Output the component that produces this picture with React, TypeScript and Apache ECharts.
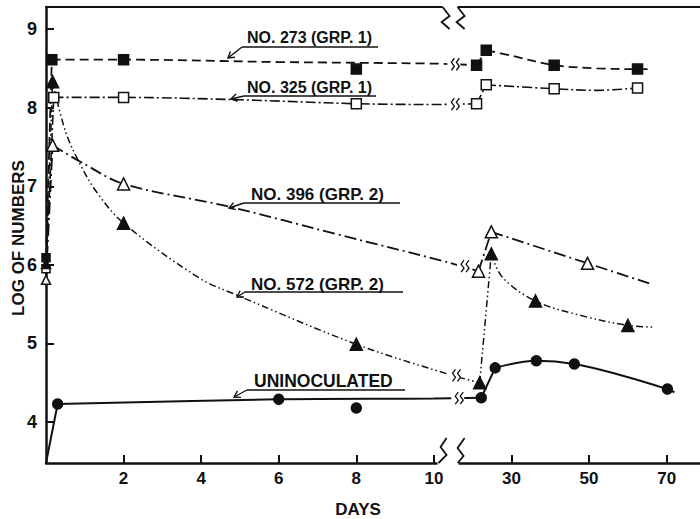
import React, { useEffect, useRef } from "react";
import * as echarts from "echarts";

// ---- axis ticks ----
const xTickDays = [2, 4, 6, 8, 10, 30, 50, 70];
const xTickLabels = ["2", "4", "6", "8", "10", "30", "50", "70"];
const yTickValues = [4, 5, 6, 7, 8, 9];
const Y_MIN = 3.48;
const Y_MAX = 9.28;
const X_MAX_AXIS = 16.86;

// ---- data (day, log of numbers) ----
const no273Points = [[0, 6.09], [0.15, 8.61], [2, 8.61], [8, 8.49], [21, 8.54], [23.5, 8.73], [41, 8.54], [62.5, 8.49]];
const no273Curve = [
  [[0, 6.09], [0.15, 8.61]],
  [[0.15, 8.61], [2, 8.61], [6, 8.58], [10, 8.56], [21, 8.54]],
  [[21, 8.54], [23.5, 8.73]],
  [[23.5, 8.73], [30, 8.66], [41, 8.54], [52, 8.5], [62.5, 8.49], [65.5, 8.49]],
];

const no325Points = [[0, 5.95], [0.2, 8.13], [2, 8.13], [8, 8.05], [21, 8.05], [23.5, 8.29], [41, 8.24], [62.5, 8.25]];
const no325Curve = [
  [[0, 5.95], [0.2, 8.13]],
  [[0.2, 8.13], [2, 8.13], [5, 8.1], [8, 8.05], [10, 8.04], [21, 8.05]],
  [[21, 8.05], [23.5, 8.29]],
  [[23.5, 8.29], [41, 8.24], [52, 8.22], [62.5, 8.25]],
];

const no396Points = [[0, 5.81], [0.17, 7.52], [2, 7.03], [21.5, 5.92], [24.8, 6.42], [49.6, 6.02]];
const no396Curve = [
  [[0, 5.81], [0.17, 7.52]],
  [[0.17, 7.52], [1, 7.28], [2, 7.03], [4.73, 6.74], [7.5, 6.39], [13, 6.04], [21.5, 5.92]],
  [[21.5, 5.92], [24.8, 6.42]],
  [[24.8, 6.42], [49.6, 6.02], [65.8, 5.76]],
];

const no572Points = [[0, 6.01], [0.17, 8.33], [2, 6.53], [8, 4.99], [21.8, 4.5], [24.8, 6.14], [36.2, 5.54], [60, 5.23]];
const no572Curve = [
  [[0, 6.01], [0.17, 8.33]],
  [[0.17, 8.33], [0.5, 7.7], [0.86, 7.3], [1.3, 6.93], [2, 6.53], [3.96, 5.83], [4.9, 5.62], [8, 4.99], [13, 4.62], [21.8, 4.5]],
  [[21.8, 4.5], [24.8, 6.14]],
  [[24.8, 6.14], [27.7, 5.84], [36.2, 5.54], [47.6, 5.36], [60, 5.23], [66.3, 5.21]],
];

const uninocPoints = [[0.3, 4.23], [6, 4.29], [8, 4.18], [22.2, 4.31], [25.8, 4.69], [36.4, 4.78], [46.2, 4.74], [70.2, 4.42]];
const uninocCurve = [
  [[0, 3.48], [0.3, 4.23]],
  [[0.3, 4.23], [6, 4.29], [10, 4.3], [22.2, 4.31]],
  [[22.2, 4.31], [25.8, 4.69]],
  [[25.8, 4.69], [36.4, 4.78], [46.2, 4.74], [58, 4.6], [70.2, 4.42], [72, 4.38]],
];

// broken time axis: 0-10 days linear, 10-20 compressed gap, 20+ at 10 days per unit
function toAxis(day: number): number {
  if (day <= 10) return day;
  if (day < 20) return 10 + (day - 10) / 10;
  return 11 + (day - 20) / 10;
}

const INK = "#111";
const FONT = "Liberation Sans";

const strains = [
  { name: "NO. 273 (GRP. 1)", points: no273Points, curve: no273Curve, symbol: "rect", filled: true, size: 10, dash: [9, 5] as any, width: 1.8, breakDay: 14.5 },
  { name: "NO. 325 (GRP. 1)", points: no325Points, curve: no325Curve, symbol: "rect", filled: false, size: 10, dash: [10, 3, 2, 3] as any, width: 1.6, breakDay: 14.5 },
  { name: "NO. 396 (GRP. 2)", points: no396Points, curve: no396Curve, symbol: "triangle", filled: false, size: 12, dash: [12, 4, 2, 4] as any, width: 1.8, breakDay: 17 },
  { name: "NO. 572 (GRP. 2)", points: no572Points, curve: no572Curve, symbol: "triangle", filled: true, size: 12, dash: [7, 3, 1.5, 3, 1.5, 3] as any, width: 1.5, breakDay: 14.8 },
  { name: "UNINOCULATED", points: uninocPoints, curve: uninocCurve, symbol: "circle", filled: true, size: 10, dash: "solid" as any, width: 2, breakDay: 15.5 },
];

// label annotations (pixel layout)
const labelLayout = [
  { text: "NO. 273 (GRP. 1)", size: 16, x: 247, y: 37, ulY: 47, ulX1: 242, ulX2: 378, tipX: 228, tipY: 58 },
  { text: "NO. 325 (GRP. 1)", size: 16, x: 247, y: 87, ulY: 96, ulX1: 244, ulX2: 376, tipX: 231, tipY: 99 },
  { text: "NO. 396 (GRP. 2)", size: 17, x: 251, y: 194, ulY: 203, ulX1: 244, ulX2: 400, tipX: 229, tipY: 208 },
  { text: "NO. 572 (GRP. 2)", size: 17, x: 251, y: 284, ulY: 292, ulX1: 245, ulX2: 403, tipX: 237, tipY: 297 },
  { text: "UNINOCULATED", size: 17.5, x: 254, y: 381, ulY: 390, ulX1: 247, ulX2: 405, tipX: 234, tipY: 397 },
];

function valueAt(curve: number[][][], c: number): number {
  for (const seg of curve) {
    for (let i = 0; i < seg.length - 1; i++) {
      const a = toAxis(seg[i][0]);
      const b = toAxis(seg[i + 1][0]);
      if (c >= a && c <= b && b > a) {
        const t = (c - a) / (b - a);
        return seg[i][1] + t * (seg[i + 1][1] - seg[i][1]);
      }
    }
  }
  return curve[0][0][1];
}

export default function App() {
  const ref = useRef<HTMLDivElement>(null);
  useEffect(() => {
    document.body.style.margin = "0";
    const chart = echarts.init(ref.current!, undefined, { renderer: "svg" });
    const tickAxis = xTickDays.map(toAxis);

    const series: any[] = [];
    strains.forEach((s) => {
      s.curve.forEach((seg) => {
        series.push({
          type: "line",
          data: seg.map(([d, v]) => [toAxis(d), v]),
          smooth: seg.length > 2 ? 0.35 : false,
          symbol: "none",
          lineStyle: { color: INK, width: s.width, type: s.dash, cap: "butt" },
          z: 2,
          silent: true,
        });
      });
      series.push({
        type: "scatter",
        name: s.name,
        data: s.points.map(([d, v]) => [toAxis(d), v]),
        symbol: s.symbol,
        symbolSize: (val: number[]) => (val[0] === 0 ? Math.round(s.size * 0.75) : s.size),
        itemStyle: { color: s.filled ? INK : "#fff", borderColor: INK, borderWidth: 1.5, opacity: 1 },
        clip: false,
        z: 3,
      });
    });

    const labelFmt = (v: number) => {
      const i = tickAxis.findIndex((t) => Math.abs(t - v) < 1e-6);
      return i >= 0 ? xTickLabels[i] : "";
    };

    chart.setOption({
      animation: false,
      backgroundColor: "#fff",
      grid: { left: 46, right: 0, top: 7, bottom: 56, containLabel: false, outerBoundsMode: "none" },
      xAxis: [
        {
          type: "value",
          min: 0,
          max: X_MAX_AXIS,
          position: "bottom",
          axisLine: { show: true, lineStyle: { color: INK, width: 2.5 } },
          axisTick: { show: true, inside: true, length: 8, customValues: tickAxis, lineStyle: { color: INK, width: 2 } },
          axisLabel: {
            customValues: tickAxis,
            formatter: labelFmt,
            color: INK,
            fontSize: 17,
            fontWeight: "bold",
            fontFamily: FONT,
            margin: 7,
          },
          splitLine: { show: false },
        },
        {
          type: "value",
          min: 0,
          max: X_MAX_AXIS,
          position: "top",
          axisLine: { show: true, lineStyle: { color: INK, width: 2 } },
          axisTick: { show: false },
          axisLabel: { show: false },
          splitLine: { show: false },
        },
      ],
      yAxis: {
        type: "value",
        min: Y_MIN,
        max: Y_MAX,
        axisLine: { show: true, lineStyle: { color: INK, width: 2.5 } },
        axisTick: { show: true, inside: true, length: 8, customValues: yTickValues, lineStyle: { color: INK, width: 2 } },
        axisLabel: {
          customValues: yTickValues,
          color: INK,
          fontSize: 18,
          fontWeight: "bold",
          fontFamily: FONT,
          margin: 9,
        },
        splitLine: { show: false },
      },
      series,
    });

    const px = (c: number, v: number) => chart.convertToPixel({ xAxisIndex: 0, yAxisIndex: 0 }, [c, v]) as number[];
    const graphic: any[] = [];
    const [xa, yb] = px(10.43, Y_MIN);
    const yt = px(0, Y_MAX)[1];
    const stroke = { stroke: INK, lineWidth: 1.8, fill: "none" };

    // bottom axis break
    graphic.push({ type: "rect", shape: { x: xa - 13, y: yb - 3, width: 21, height: 6 }, style: { fill: "#fff" }, z: 100 });
    graphic.push({ type: "polyline", shape: { points: [[xa - 4, yb - 25], [xa - 10, yb - 16], [xa - 4, yb - 8], [xa - 12, yb]] }, style: stroke, z: 101 });
    graphic.push({ type: "polyline", shape: { points: [[xa + 14, yb - 25], [xa + 7, yb - 15], [xa + 13, yb - 7], [xa + 7, yb]] }, style: stroke, z: 101 });
    // top border break
    graphic.push({ type: "rect", shape: { x: xa - 8, y: yt - 3, width: 15, height: 6 }, style: { fill: "#fff" }, z: 100 });
    graphic.push({ type: "polyline", shape: { points: [[xa - 8, yt], [xa - 1, yt + 9], [xa - 9, yt + 15], [xa - 1, yt + 22]] }, style: stroke, z: 101 });
    graphic.push({ type: "polyline", shape: { points: [[xa + 7, yt], [xa + 14, yt + 9], [xa + 6, yt + 15], [xa + 14, yt + 22]] }, style: stroke, z: 101 });

    // curve breaks
    strains.forEach((s) => {
      const c = toAxis(s.breakDay);
      const [x, y] = px(c, valueAt(s.curve, c));
      graphic.push({ type: "rect", shape: { x: x - 4, y: y - 2.5, width: 13, height: 5 }, style: { fill: "#fff" }, z: 100 });
      [0, 5].forEach((o) => {
        graphic.push({
          type: "polyline",
          shape: { points: [[x + o + 3, y - 6], [x + o, y - 2], [x + o + 3, y + 2], [x + o, y + 6]] },
          style: { stroke: INK, lineWidth: 1.3, fill: "none" },
          z: 101,
        });
      });
    });

    // labels with underline and arrow
    labelLayout.forEach((l) => {
      graphic.push({
        type: "text",
        style: { text: l.text, x: l.x, y: l.y, fill: INK, fontSize: l.size, fontWeight: "bold", fontFamily: FONT, align: "left", verticalAlign: "middle" },
        z: 101,
      });
      graphic.push({ type: "line", shape: { x1: l.ulX1, y1: l.ulY, x2: l.ulX2, y2: l.ulY }, style: { stroke: INK, lineWidth: 1.6 }, z: 101 });
      graphic.push({ type: "line", shape: { x1: l.ulX1, y1: l.ulY, x2: l.tipX, y2: l.tipY }, style: { stroke: INK, lineWidth: 1.4 }, z: 101 });
      const dx = l.ulX1 - l.tipX;
      const dy = l.ulY - l.tipY;
      const len = Math.hypot(dx, dy);
      const ux = dx / len;
      const uy = dy / len;
      const rot = (a: number) => [ux * Math.cos(a) - uy * Math.sin(a), ux * Math.sin(a) + uy * Math.cos(a)];
      const r1 = rot(0.55);
      const r2 = rot(-0.55);
      graphic.push({
        type: "polyline",
        shape: { points: [[l.tipX + r1[0] * 7, l.tipY + r1[1] * 7], [l.tipX, l.tipY], [l.tipX + r2[0] * 7, l.tipY + r2[1] * 7]] },
        style: { stroke: INK, lineWidth: 1.4, fill: "none" },
        z: 101,
      });
    });

    // axis titles
    graphic.push({
      type: "text",
      x: 18,
      y: 238,
      rotation: Math.PI / 2,
      style: { text: "LOG OF NUMBERS", x: 0, y: 0, fill: INK, fontSize: 17, fontWeight: "bold", fontFamily: FONT, align: "center", verticalAlign: "middle" },
      z: 101,
    });
    graphic.push({
      type: "text",
      style: { text: "DAYS", x: 358, y: 509, fill: INK, fontSize: 17, fontWeight: "bold", fontFamily: FONT, align: "center", verticalAlign: "middle" },
      z: 101,
    });

    chart.setOption({ graphic });

    return () => chart.dispose();
  }, []);

  return <div ref={ref} style={{ width: 700, height: 519 }} />;
}
